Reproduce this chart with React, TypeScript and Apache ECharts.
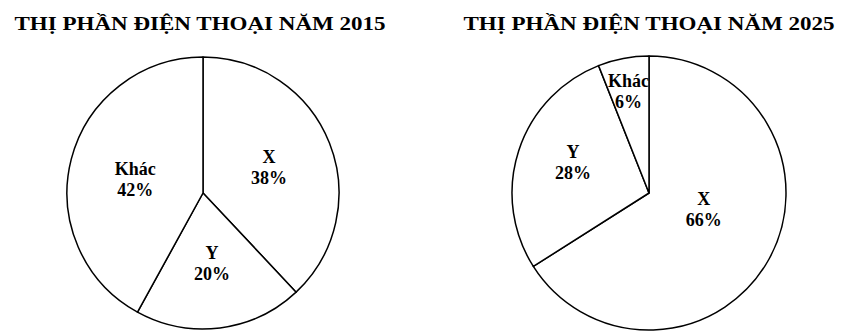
import React, { useEffect, useRef } from "react";
import * as echarts from "echarts";

const titles = ["THỊ PHẦN ĐIỆN THOẠI NĂM 2015", "THỊ PHẦN ĐIỆN THOẠI NĂM 2025"];
const names2015 = ["X", "Y", "Khác"];
const values2015 = [38, 20, 42];
const names2025 = ["X", "Y", "Khác"];
const values2025 = [66, 28, 6];
// label nudges (dx, dy)
const nudges2015 = [[0, 1], [0, 0], [1, 4]];
const nudges2025 = [[-8, -18], [-8, -8], [-7, -31]];

const FONT = "'Liberation Serif', 'Times New Roman', serif";

export default function App() {
  const ref = useRef<HTMLDivElement>(null);
  useEffect(() => {
    if (!ref.current) return;
    const chart = echarts.init(ref.current, null, { renderer: "svg" });
    const labelStyle = {
      show: true,
      position: "inside" as const,
      formatter: "{b}\n{c}%",
      color: "#000",
      fontFamily: FONT,
      fontWeight: "bold" as const,
      fontSize: 18,
      lineHeight: 21,
    };
    const itemStyle = { color: "#fff", borderColor: "#000", borderWidth: 1.5 };
    const titleText = (text: string, x: number) => ({
      type: "text",
      x,
      y: 24,
      scaleX: 1.28,
      silent: true,
      style: {
        text,
        fill: "#000",
        font: `bold 18px ${FONT}`,
        textAlign: "center",
        textVerticalAlign: "middle",
      },
    });
    chart.setOption({
      animation: false,
      backgroundColor: "#fff",
      graphic: [titleText(titles[0], 200), titleText(titles[1], 649)],
      series: [
        {
          type: "pie",
          center: [203, 193],
          radius: 136,
          startAngle: 90,
          clockwise: true,
          silent: true,
          label: labelStyle,
          labelLine: { show: false },
          itemStyle,
          labelLayout: (p: any) => ({ dx: nudges2015[p.dataIndex][0], dy: nudges2015[p.dataIndex][1] }),
          data: names2015.map((n, i) => ({ name: n, value: values2015[i] })),
        },
        {
          type: "pie",
          center: [649, 193],
          radius: 137,
          startAngle: 90,
          clockwise: true,
          silent: true,
          label: labelStyle,
          labelLine: { show: false },
          itemStyle,
          labelLayout: (p: any) => ({ dx: nudges2025[p.dataIndex][0], dy: nudges2025[p.dataIndex][1] }),
          data: names2025.map((n, i) => ({ name: n, value: values2025[i] })),
        },
      ],
    });
    return () => chart.dispose();
  }, []);
  return (
    <div
      ref={ref}
      style={{ position: "fixed", left: 0, top: 0, width: 853, height: 335 }}
    />
  );
}
